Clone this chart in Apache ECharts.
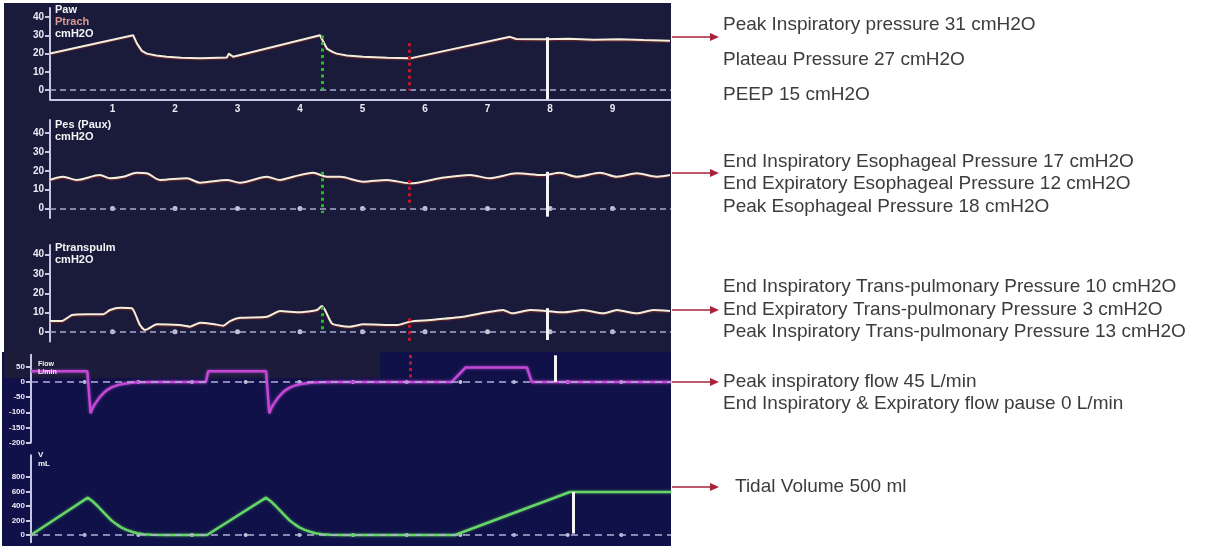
<!DOCTYPE html>
<html><head><meta charset="utf-8">
<script src="https://cdn.jsdelivr.net/npm/echarts@6/dist/echarts.min.js"></script>
<style>html,body{margin:0;padding:0;background:#fff}#c{width:1230px;height:550px}</style>
</head><body><div id="c"></div>
<script>
// ---------------- DATA ----------------
// Paw (airway pressure), cmH2O vs time (s)
const pawT = [0, 1.33, 1.39, 1.47, 1.55, 1.7, 1.87, 2.1, 2.4, 2.83, 2.86, 2.93, 4.32, 4.43, 4.52, 4.59, 4.75, 5.01, 5.4, 5.76, 7.36, 7.46, 7.9, 8.3, 8.7, 9.1, 9.5, 9.92];
const pawV = [20.1, 30.1, 25.6, 21.5, 20, 19, 18.3, 17.8, 17.4, 17.9, 20, 18.3, 30.1, 22.8, 21, 20, 19, 18.3, 17.7, 17.4, 29.2, 28, 27.9, 28.1, 27.6, 27.9, 27.4, 27];
// Pes (esophageal pressure)
const pesT = [0, 0.21, 0.43, 0.8, 0.96, 1.17, 1.39, 1.55, 1.76, 2.19, 2.4, 2.83, 3.04, 3.47, 3.68, 3.89, 4.21, 4.43, 4.64, 5.01, 5.39, 5.76, 6.24, 6.72, 7.04, 7.47, 7.89, 8.16, 8.43, 8.8, 9.07, 9.39, 9.71, 9.92];
const pesV = [15.2, 16.9, 15.2, 17.8, 16.1, 16.9, 19, 18.7, 15.2, 16.1, 13.7, 15.2, 13.7, 16.9, 15.2, 16.9, 19, 16.9, 16.9, 14.3, 15.2, 13.4, 16.1, 17.8, 16.1, 18.7, 17.8, 19, 16.9, 19, 16.9, 18.7, 16.9, 17.8];
// Ptranspulm (transpulmonary pressure)
const ptpT = [0, 0.19, 0.35, 0.59, 0.85, 0.96, 1.12, 1.31, 1.36, 1.44, 1.52, 1.71, 2.08, 2.24, 2.4, 2.61, 2.77, 2.88, 3.04, 3.47, 3.68, 4.0, 4.27, 4.35, 4.4, 4.51, 4.64, 4.8, 5.01, 5.55, 5.76, 6.08, 6.61, 6.99, 7.25, 7.39, 7.68, 7.95, 8.21, 8.53, 8.85, 9.07, 9.39, 9.65, 9.92];
const ptpV = [5.6, 5.6, 8.7, 9.1, 9.1, 11.3, 12.5, 12.2, 9.6, 3.5, 1, 3.9, 3.5, 2.7, 4.7, 4.1, 3.2, 5.6, 7.3, 7.8, 10.8, 10.1, 11.3, 13.4, 11.3, 4.4, 3.2, 2.7, 3.9, 3.5, 5.3, 6.1, 7.8, 10.1, 11.3, 9.6, 11.3, 10.8, 10.1, 11.3, 9.6, 11.3, 9.6, 11.3, 10.8];
// Flow, L/min (second monitor time base)
const flowT = [0, 1.05, 1.11, 1.15, 1.22, 1.29, 1.36, 1.43, 1.51, 1.6, 1.7, 1.8, 1.92, 2.05, 2.3, 3.26, 3.3, 4.38, 4.44, 4.48, 4.55, 4.62, 4.69, 4.76, 4.84, 4.93, 5.03, 5.13, 5.25, 5.38, 5.63, 7.84, 8.1, 9.24, 9.33, 11.93];
const flowV = [35, 35, -103, -85, -65, -48, -35, -25, -17, -11, -7, -4, -2, -1, 0, 0, 35, 35, -103, -85, -65, -48, -35, -25, -17, -11, -7, -4, -2, -1, 0, 0, 48, 48, 0, 0];
// Volume, mL
const volT = [0, 1.06, 1.14, 1.24, 1.33, 1.42, 1.5, 1.59, 1.68, 1.78, 1.88, 1.98, 2.1, 2.25, 2.5, 3.28, 4.38, 4.46, 4.56, 4.65, 4.74, 4.82, 4.91, 5.0, 5.1, 5.2, 5.3, 5.42, 5.57, 5.82, 7.9, 10.04, 11.93];
const volV = [0, 515, 470, 400, 330, 260, 200, 150, 105, 70, 45, 25, 12, 5, 0, 0, 515, 470, 400, 330, 260, 200, 150, 105, 70, 45, 25, 12, 5, 0, 0, 593, 593];

// Tick labels
const pressureTicks = [0, 10, 20, 30, 40];
const secondTicks = [1, 2, 3, 4, 5, 6, 7, 8, 9];
const flowTicks = [-200, -150, -100, -50, 0, 50];
const volTicks = [0, 200, 400, 600, 800];
const pressureDots = [1, 2, 3, 4, 5, 6, 7, 8, 9];
const loopDots = [1, 2, 3, 4, 5, 6, 7, 8, 9, 10, 11];

// Cursors: [top value, bottom value] per pressure panel
const greenCursorT = 4.35;
const greenCursorSpans = [[30, 0], [19.6, -2.3], [13, -0.6]];
const redCursorT = 5.75;
const redCursorSpans = [[25.7, 0], [15, 1], [7, -5]];
const whiteCursorT = 7.95;
const whiteCursorSpans = [[29, -5], [19.5, -4.3], [12.3, -4.2]];
const flowRedCursor = [7.06, 89, 13];
const flowWhiteCursor = [9.76, 88, 0];
const volWhiteCursor = [10.1, 593, 20];

// Panel titles
const panelTitles = [["Paw", "Ptrach", "cmH2O"], ["Pes (Paux)", "cmH2O"], ["Ptranspulm", "cmH2O"], ["Flow", "L/min"], ["V", "mL"]];

// Right-hand annotations
const annoLines = [
  "Peak Inspiratory pressure 31 cmH2O",
  "Plateau Pressure 27 cmH2O",
  "PEEP 15 cmH2O",
  "End Inspiratory Esophageal Pressure 17 cmH2O",
  "End Expiratory Esophageal Pressure 12 cmH2O",
  "Peak Esophageal Pressure 18 cmH2O",
  "End Inspiratory Trans-pulmonary Pressure 10 cmH2O",
  "End Expiratory Trans-pulmonary Pressure 3 cmH2O",
  "Peak Inspiratory Trans-pulmonary Pressure 13 cmH2O",
  "Peak inspiratory flow 45 L/min",
  "End Inspiratory & Expiratory flow pause 0 L/min",
  "Tidal Volume 500 ml"
];

// ---------------- LAYOUT / STYLE ----------------
const annoY = [25, 60, 95, 162, 184, 207, 287, 310, 332, 382, 404, 487];
const annoX = [723, 723, 723, 723, 723, 723, 723, 723, 723, 723, 723, 735];
const arrowY = [37, 173, 310, 382, 487];

const zip = (t, v) => t.map((x, i) => [x, v[i]]);
const AX = '#c6c6e4';
const FONT = '"Liberation Sans", Arial, sans-serif';

const grids = [
  {left: 50, top: 8, width: 621, height: 91.25},
  {left: 50, top: 120, width: 621, height: 98},
  {left: 50, top: 245, width: 621, height: 96.5},
  {left: 31, top: 354.7, width: 640, height: 87.9},
  {left: 31, top: 455.25, width: 640, height: 87}
];

function yAxisCfg(idx, min, max, ticks, fs) {
  return {
    type: 'value', gridIndex: idx, min: min, max: max,
    axisLine: {show: true, lineStyle: {color: AX, width: 2}},
    axisTick: {show: true, length: 5, customValues: ticks, lineStyle: {color: AX, width: 2}},
    axisLabel: {customValues: ticks, color: '#ececf6', fontSize: fs, fontWeight: 'bold', fontFamily: FONT, margin: 6},
    splitLine: {show: false}
  };
}
function xAxisCfg(idx, max, showAxis) {
  return {
    type: 'value', gridIndex: idx, min: 0, max: max,
    axisLine: {show: showAxis, onZero: false, lineStyle: {color: AX, width: 2}},
    axisTick: {show: false},
    axisLabel: showAxis ? {customValues: secondTicks, color: '#ececf6', fontSize: 10, fontWeight: 'bold', fontFamily: FONT, margin: 5} : {show: false},
    splitLine: {show: false}
  };
}

const zeroStyle = {color: '#a9a9d2', type: [6, 4], width: 1.5};
const greenStyle = {color: '#1fc21f', type: [3, 3.5], width: 3};
const redStyle = {color: '#c0182a', type: [3, 3.5], width: 3};
const whiteStyle = {color: '#f4f4f4', type: 'solid', width: 3};

function seg(t, a, b, st) {
  return [{coord: [t, a], lineStyle: st}, {coord: [t, b], lineStyle: st}];
}
function pressureMarks(p) {
  return {
    silent: true, symbol: 'none', label: {show: false}, animation: false,
    data: [
      {yAxis: 0, lineStyle: zeroStyle},
      seg(greenCursorT, greenCursorSpans[p][0], greenCursorSpans[p][1], greenStyle),
      seg(redCursorT, redCursorSpans[p][0], redCursorSpans[p][1], redStyle),
      seg(whiteCursorT, whiteCursorSpans[p][0], whiteCursorSpans[p][1], whiteStyle)
    ]
  };
}
const pressLine = {color: '#f4eedc', width: 2, shadowColor: 'rgba(150,45,30,0.55)', shadowBlur: 1, shadowOffsetY: 1.2};

const series = [
  {type: 'line', xAxisIndex: 0, yAxisIndex: 0, data: zip(pawT, pawV), showSymbol: false, lineStyle: pressLine, markLine: pressureMarks(0), z: 3},
  {type: 'line', xAxisIndex: 1, yAxisIndex: 1, data: zip(pesT, pesV), showSymbol: false, smooth: 0.3, lineStyle: pressLine, markLine: pressureMarks(1), z: 3},
  {type: 'scatter', xAxisIndex: 1, yAxisIndex: 1, data: pressureDots.map(t => [t, 0]), symbolSize: 5, itemStyle: {color: '#f0f0ff'}, silent: true},
  {type: 'line', xAxisIndex: 2, yAxisIndex: 2, data: zip(ptpT, ptpV), showSymbol: false, smooth: 0.2, lineStyle: pressLine, markLine: pressureMarks(2), z: 3},
  {type: 'scatter', xAxisIndex: 2, yAxisIndex: 2, data: pressureDots.map(t => [t, 0]), symbolSize: 5, itemStyle: {color: '#f0f0ff'}, silent: true},
  {type: 'line', xAxisIndex: 3, yAxisIndex: 3, data: zip(flowT, flowV), showSymbol: false, z: 3,
    lineStyle: {color: '#c447d6', width: 2.5, shadowColor: 'rgba(220,90,240,0.6)', shadowBlur: 3},
    markLine: {silent: true, symbol: 'none', label: {show: false}, data: [
      {yAxis: 0, lineStyle: {color: '#b0b0d8', type: [7, 5], width: 1.5}},
      seg(flowRedCursor[0], flowRedCursor[1], flowRedCursor[2], redStyle),
      seg(flowWhiteCursor[0], flowWhiteCursor[1], flowWhiteCursor[2], whiteStyle)
    ]}},
  {type: 'scatter', xAxisIndex: 3, yAxisIndex: 3, data: loopDots.map(t => [t, 0]), symbolSize: 4, itemStyle: {color: '#f0f0ff'}, silent: true},
  {type: 'line', xAxisIndex: 4, yAxisIndex: 4, data: zip(volT, volV), showSymbol: false, z: 3,
    lineStyle: {color: '#66d466', width: 2.5, shadowColor: 'rgba(90,230,90,0.5)', shadowBlur: 3},
    markLine: {silent: true, symbol: 'none', label: {show: false}, data: [
      {yAxis: 0, lineStyle: {color: '#b0b0d8', type: [7, 5], width: 1.5}},
      seg(volWhiteCursor[0], volWhiteCursor[1], volWhiteCursor[2], whiteStyle)
    ]}},
  {type: 'scatter', xAxisIndex: 4, yAxisIndex: 4, data: loopDots.map(t => [t, 0]), symbolSize: 4, itemStyle: {color: '#f0f0ff'}, silent: true}
];

// Graphic: backgrounds, titles, annotations
const g = [];
g.push({type: 'rect', z: -10, shape: {x: 4, y: 3, width: 667, height: 352}, style: {fill: '#1a1a3b'}});
g.push({type: 'rect', z: -10, shape: {x: 2, y: 352, width: 669, height: 194}, style: {fill: '#111149'}});
g.push({type: 'rect', z: -9, shape: {x: 4, y: 350, width: 376, height: 28}, style: {fill: '#1c1c3a'}});

const titlePos = [[55, 10, 11], [55, 125, 11], [55, 248, 11], [38, 364, 7], [38, 455, 8]];
const titleColors = [['#f4f4f4', '#d89a90', '#f4f4f4'], ['#f4f4f4', '#f4f4f4'], ['#f4f4f4', '#f4f4f4'], ['#f4f4f4', '#f4f4f4'], ['#f4f4f4', '#f4f4f4']];
panelTitles.forEach((lines, p) => {
  const [x, y, fs] = titlePos[p];
  lines.forEach((txt, i) => {
    g.push({type: 'text', z: 10, style: {text: txt, x: x, y: y + i * (fs + 1), fill: titleColors[p][i],
      font: 'bold ' + fs + 'px ' + FONT, textVerticalAlign: 'middle', verticalAlign: 'middle'}});
  });
});

annoLines.forEach((txt, i) => {
  g.push({type: 'text', z: 10, style: {text: txt, x: annoX[i], y: annoY[i], fill: '#3c3c3c',
    font: '19px ' + FONT, textVerticalAlign: 'middle', verticalAlign: 'middle'}});
});
arrowY.forEach(y => {
  g.push({type: 'line', z: 10, shape: {x1: 672, y1: y, x2: 713, y2: y}, style: {stroke: '#a8223a', lineWidth: 1.6}});
  g.push({type: 'polygon', z: 10, shape: {points: [[710, y - 4], [719, y], [710, y + 4]]}, style: {fill: '#a8223a'}});
});

const chart = echarts.init(document.getElementById('c'), null, {renderer: 'canvas'});
chart.setOption({
  backgroundColor: '#ffffff',
  animation: false,
  grid: grids,
  xAxis: [xAxisCfg(0, 9.936, true), xAxisCfg(1, 9.936, false), xAxisCfg(2, 9.936, false), xAxisCfg(3, 11.925, false), xAxisCfg(4, 11.925, false)],
  yAxis: [
    yAxisCfg(0, -5, 45, pressureTicks, 10),
    yAxisCfg(1, -5, 47, pressureTicks, 10),
    yAxisCfg(2, -5, 45, pressureTicks, 10),
    yAxisCfg(3, -200, 90, flowTicks, 8),
    yAxisCfg(4, -100, 1100, volTicks, 8)
  ],
  graphic: {elements: g},
  series: series
});
</script>
</body></html>
